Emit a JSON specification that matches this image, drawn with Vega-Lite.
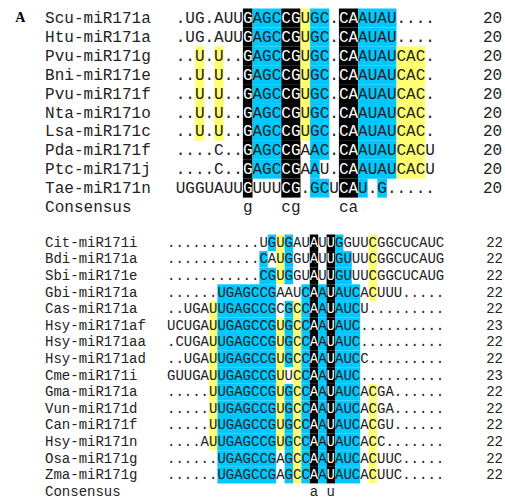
{
"$schema":"https://vega.github.io/schema/vega-lite/v6.json",
"padding":{"left":0,"top":8.5,"right":0,"bottom":0},
"autosize":{"type":"pad"},
"background":"white",
"spacing":18,
"config":{"view":{"stroke":null},"concat":{"spacing":18},"text":{"font":"Liberation Mono"}},
"datasets":{
"rows1":[
{"r":0,"name":"Scu-miR171a","n":"20"},{"r":1,"name":"Htu-miR171a","n":"20"},{"r":2,"name":"Pvu-miR171g","n":"20"},{"r":3,"name":"Bni-miR171e","n":"20"},
{"r":4,"name":"Pvu-miR171f","n":"20"},{"r":5,"name":"Nta-miR171o","n":"20"},{"r":6,"name":"Lsa-miR171c","n":"20"},{"r":7,"name":"Pda-miR171f","n":"20"},
{"r":8,"name":"Ptc-miR171j","n":"20"},{"r":9,"name":"Tae-miR171n","n":"20"},{"r":10,"name":"Consensus","n":""}
],
"tx1":[
{"r":0,"c":0,"s":".UG.AUU"},{"r":0,"c":8,"s":"AGC"},{"r":0,"c":13,"s":"UGC."},{"r":0,"c":19,"s":"AUAU...."},
{"r":1,"c":0,"s":".UG.AUU"},{"r":1,"c":8,"s":"AGC"},{"r":1,"c":13,"s":"UGC."},{"r":1,"c":19,"s":"AUAU...."},
{"r":2,"c":0,"s":"..U.U.."},{"r":2,"c":8,"s":"AGC"},{"r":2,"c":13,"s":"UGC."},{"r":2,"c":19,"s":"AUAUCAC."},
{"r":3,"c":0,"s":"..U.U.."},{"r":3,"c":8,"s":"AGC"},{"r":3,"c":13,"s":"UGC."},{"r":3,"c":19,"s":"AUAUCAC."},
{"r":4,"c":0,"s":"..U.U.."},{"r":4,"c":8,"s":"AGC"},{"r":4,"c":13,"s":"UGC."},{"r":4,"c":19,"s":"AUAUCAC."},
{"r":5,"c":0,"s":"..U.U.."},{"r":5,"c":8,"s":"AGC"},{"r":5,"c":13,"s":"UGC."},{"r":5,"c":19,"s":"AUAUCAC."},
{"r":6,"c":0,"s":"..U.U.."},{"r":6,"c":8,"s":"AGC"},{"r":6,"c":13,"s":"UGC."},{"r":6,"c":19,"s":"AUAUCAC."},
{"r":7,"c":0,"s":"....C.."},{"r":7,"c":8,"s":"AGC"},{"r":7,"c":13,"s":"AAC."},{"r":7,"c":19,"s":"AUAUCACU"},
{"r":8,"c":0,"s":"....C.."},{"r":8,"c":8,"s":"AGC"},{"r":8,"c":13,"s":"AAU."},{"r":8,"c":19,"s":"AUAUCACU"},
{"r":9,"c":0,"s":"UGGUAUU"},{"r":9,"c":8,"s":"UUU"},{"r":9,"c":13,"s":".GCU"},{"r":9,"c":19,"s":"U.G....."},
{"r":10,"c":7,"s":"g"},{"r":10,"c":11,"s":"cg"},{"r":10,"c":17,"s":"ca"}
],
"sh1":[
{"r":0,"c":7,"e":8,"k":"K","s":"G"},{"r":0,"c":8,"e":11,"k":"C"},{"r":0,"c":11,"e":13,"k":"K","s":"CG"},{"r":0,"c":13,"e":14,"k":"Y"},{"r":0,"c":14,"e":16,"k":"C"},{"r":0,"c":17,"e":19,"k":"K","s":"CA"},{"r":0,"c":19,"e":23,"k":"C"},
{"r":1,"c":7,"e":8,"k":"K","s":"G"},{"r":1,"c":8,"e":11,"k":"C"},{"r":1,"c":11,"e":13,"k":"K","s":"CG"},{"r":1,"c":13,"e":14,"k":"Y"},{"r":1,"c":14,"e":16,"k":"C"},{"r":1,"c":17,"e":19,"k":"K","s":"CA"},{"r":1,"c":19,"e":23,"k":"C"},
{"r":2,"c":2,"e":3,"k":"Y"},{"r":2,"c":4,"e":5,"k":"Y"},{"r":2,"c":7,"e":8,"k":"K","s":"G"},{"r":2,"c":8,"e":11,"k":"C"},{"r":2,"c":11,"e":13,"k":"K","s":"CG"},{"r":2,"c":13,"e":14,"k":"Y"},{"r":2,"c":14,"e":16,"k":"C"},{"r":2,"c":17,"e":19,"k":"K","s":"CA"},{"r":2,"c":19,"e":23,"k":"C"},{"r":2,"c":23,"e":26,"k":"Y"},
{"r":3,"c":2,"e":3,"k":"Y"},{"r":3,"c":4,"e":5,"k":"Y"},{"r":3,"c":7,"e":8,"k":"K","s":"G"},{"r":3,"c":8,"e":11,"k":"C"},{"r":3,"c":11,"e":13,"k":"K","s":"CG"},{"r":3,"c":13,"e":14,"k":"Y"},{"r":3,"c":14,"e":16,"k":"C"},{"r":3,"c":17,"e":19,"k":"K","s":"CA"},{"r":3,"c":19,"e":23,"k":"C"},{"r":3,"c":23,"e":26,"k":"Y"},
{"r":4,"c":2,"e":3,"k":"Y"},{"r":4,"c":4,"e":5,"k":"Y"},{"r":4,"c":7,"e":8,"k":"K","s":"G"},{"r":4,"c":8,"e":11,"k":"C"},{"r":4,"c":11,"e":13,"k":"K","s":"CG"},{"r":4,"c":13,"e":14,"k":"Y"},{"r":4,"c":14,"e":16,"k":"C"},{"r":4,"c":17,"e":19,"k":"K","s":"CA"},{"r":4,"c":19,"e":23,"k":"C"},{"r":4,"c":23,"e":26,"k":"Y"},
{"r":5,"c":2,"e":3,"k":"Y"},{"r":5,"c":4,"e":5,"k":"Y"},{"r":5,"c":7,"e":8,"k":"K","s":"G"},{"r":5,"c":8,"e":11,"k":"C"},{"r":5,"c":11,"e":13,"k":"K","s":"CG"},{"r":5,"c":13,"e":14,"k":"Y"},{"r":5,"c":14,"e":16,"k":"C"},{"r":5,"c":17,"e":19,"k":"K","s":"CA"},{"r":5,"c":19,"e":23,"k":"C"},{"r":5,"c":23,"e":26,"k":"Y"},
{"r":6,"c":2,"e":3,"k":"Y"},{"r":6,"c":4,"e":5,"k":"Y"},{"r":6,"c":7,"e":8,"k":"K","s":"G"},{"r":6,"c":8,"e":11,"k":"C"},{"r":6,"c":11,"e":13,"k":"K","s":"CG"},{"r":6,"c":13,"e":14,"k":"Y"},{"r":6,"c":14,"e":16,"k":"C"},{"r":6,"c":17,"e":19,"k":"K","s":"CA"},{"r":6,"c":19,"e":23,"k":"C"},{"r":6,"c":23,"e":26,"k":"Y"},
{"r":7,"c":7,"e":8,"k":"K","s":"G"},{"r":7,"c":8,"e":11,"k":"C"},{"r":7,"c":11,"e":13,"k":"K","s":"CG"},{"r":7,"c":14,"e":16,"k":"C"},{"r":7,"c":17,"e":19,"k":"K","s":"CA"},{"r":7,"c":19,"e":23,"k":"C"},{"r":7,"c":23,"e":26,"k":"Y"},
{"r":8,"c":7,"e":8,"k":"K","s":"G"},{"r":8,"c":8,"e":11,"k":"C"},{"r":8,"c":11,"e":13,"k":"K","s":"CG"},{"r":8,"c":14,"e":15,"k":"C"},{"r":8,"c":17,"e":19,"k":"K","s":"CA"},{"r":8,"c":19,"e":23,"k":"C"},{"r":8,"c":23,"e":26,"k":"Y"},
{"r":9,"c":7,"e":8,"k":"K","s":"G"},{"r":9,"c":11,"e":13,"k":"K","s":"CG"},{"r":9,"c":14,"e":16,"k":"C"},{"r":9,"c":17,"e":19,"k":"K","s":"CA"},{"r":9,"c":19,"e":20,"k":"C"},{"r":9,"c":21,"e":22,"k":"C"}
],
"rows2":[
{"r":0,"name":"Cit-miR171i","n":"22"},{"r":1,"name":"Bdi-miR171a","n":"22"},{"r":2,"name":"Sbi-miR171e","n":"22"},{"r":3,"name":"Gbi-miR171a","n":"22"},
{"r":4,"name":"Cas-miR171a","n":"22"},{"r":5,"name":"Hsy-miR171af","n":"23"},{"r":6,"name":"Hsy-miR171aa","n":"22"},{"r":7,"name":"Hsy-miR171ad","n":"22"},
{"r":8,"name":"Cme-miR171i","n":"23"},{"r":9,"name":"Gma-miR171a","n":"22"},{"r":10,"name":"Vun-miR171d","n":"22"},{"r":11,"name":"Can-miR171f","n":"22"},
{"r":12,"name":"Hsy-miR171n","n":"22"},{"r":13,"name":"Osa-miR171g","n":"22"},{"r":14,"name":"Zma-miR171g","n":"22"},{"r":15,"name":"Consensus","n":""}
],
"tx2":[
{"r":0,"c":0,"s":"...........UGUGAU"},{"r":0,"c":18,"s":"U"},{"r":0,"c":20,"s":"GGUUCGGCUCAUC"},
{"r":1,"c":0,"s":"...........CAUGGU"},{"r":1,"c":18,"s":"U"},{"r":1,"c":20,"s":"GUUUCGGCUCAUG"},
{"r":2,"c":0,"s":"...........CGUGGU"},{"r":2,"c":18,"s":"U"},{"r":2,"c":20,"s":"GUUUCGGCUCAUG"},
{"r":3,"c":0,"s":"......UGAGCCGAAUC"},{"r":3,"c":18,"s":"A"},{"r":3,"c":20,"s":"AUCACUUU....."},
{"r":4,"c":0,"s":"..UGAUUGAGCCGCGCC"},{"r":4,"c":18,"s":"A"},{"r":4,"c":20,"s":"AUCU........."},
{"r":5,"c":0,"s":"UCUGAUUGAGCCGUGCC"},{"r":5,"c":18,"s":"A"},{"r":5,"c":20,"s":"AUC.........."},
{"r":6,"c":0,"s":".CUGAUUGAGCCGUGCC"},{"r":6,"c":18,"s":"A"},{"r":6,"c":20,"s":"AUC.........."},
{"r":7,"c":0,"s":"..UGAUUGAGCCGUGCC"},{"r":7,"c":18,"s":"A"},{"r":7,"c":20,"s":"AUCC........."},
{"r":8,"c":0,"s":"GUUGAUUGAGCCGUUCC"},{"r":8,"c":18,"s":"A"},{"r":8,"c":20,"s":"AUC.........."},
{"r":9,"c":0,"s":".....UUGAGCCGUGCC"},{"r":9,"c":18,"s":"A"},{"r":9,"c":20,"s":"AUCACGA......"},
{"r":10,"c":0,"s":".....UUGAGCCGUGCC"},{"r":10,"c":18,"s":"A"},{"r":10,"c":20,"s":"AUCACGA......"},
{"r":11,"c":0,"s":".....UUGAGCCGUGCC"},{"r":11,"c":18,"s":"A"},{"r":11,"c":20,"s":"AUCACGU......"},
{"r":12,"c":0,"s":"....AUUGAGCCGUGCC"},{"r":12,"c":18,"s":"A"},{"r":12,"c":20,"s":"AUCACC......."},
{"r":13,"c":0,"s":"......UGAGCCGAGCC"},{"r":13,"c":18,"s":"A"},{"r":13,"c":20,"s":"AUCACUUC....."},
{"r":14,"c":0,"s":"......UGAGCCGAGCC"},{"r":14,"c":18,"s":"A"},{"r":14,"c":20,"s":"AUCACUUC....."},
{"r":15,"c":17,"s":"a"},{"r":15,"c":19,"s":"u"}
],
"sh2":[
{"r":0,"c":12,"e":13,"k":"C"},{"r":0,"c":13,"e":14,"k":"Y"},{"r":0,"c":14,"e":15,"k":"C"},{"r":0,"c":17,"e":18,"k":"K","s":"A"},{"r":0,"c":19,"e":20,"k":"K","s":"U"},{"r":0,"c":20,"e":21,"k":"C"},{"r":0,"c":24,"e":25,"k":"Y"},
{"r":1,"c":11,"e":12,"k":"C"},{"r":1,"c":13,"e":14,"k":"Y"},{"r":1,"c":14,"e":15,"k":"C"},{"r":1,"c":17,"e":18,"k":"K","s":"A"},{"r":1,"c":19,"e":20,"k":"K","s":"U"},{"r":1,"c":20,"e":22,"k":"C"},{"r":1,"c":24,"e":25,"k":"Y"},
{"r":2,"c":11,"e":13,"k":"C"},{"r":2,"c":13,"e":14,"k":"Y"},{"r":2,"c":14,"e":15,"k":"C"},{"r":2,"c":17,"e":18,"k":"K","s":"A"},{"r":2,"c":19,"e":20,"k":"K","s":"U"},{"r":2,"c":20,"e":22,"k":"C"},{"r":2,"c":24,"e":25,"k":"Y"},
{"r":3,"c":6,"e":13,"k":"C"},{"r":3,"c":16,"e":17,"k":"C"},{"r":3,"c":17,"e":18,"k":"K","s":"A"},{"r":3,"c":18,"e":19,"k":"C"},{"r":3,"c":19,"e":20,"k":"K","s":"U"},{"r":3,"c":20,"e":23,"k":"C"},{"r":3,"c":24,"e":25,"k":"Y"},
{"r":4,"c":5,"e":6,"k":"Y"},{"r":4,"c":6,"e":13,"k":"C"},{"r":4,"c":14,"e":15,"k":"C"},{"r":4,"c":15,"e":16,"k":"Y"},{"r":4,"c":16,"e":17,"k":"C"},{"r":4,"c":17,"e":18,"k":"K","s":"A"},{"r":4,"c":18,"e":19,"k":"C"},{"r":4,"c":19,"e":20,"k":"K","s":"U"},{"r":4,"c":20,"e":23,"k":"C"},
{"r":5,"c":5,"e":6,"k":"Y"},{"r":5,"c":6,"e":13,"k":"C"},{"r":5,"c":13,"e":14,"k":"Y"},{"r":5,"c":14,"e":15,"k":"C"},{"r":5,"c":15,"e":16,"k":"Y"},{"r":5,"c":16,"e":17,"k":"C"},{"r":5,"c":17,"e":18,"k":"K","s":"A"},{"r":5,"c":18,"e":19,"k":"C"},{"r":5,"c":19,"e":20,"k":"K","s":"U"},{"r":5,"c":20,"e":23,"k":"C"},
{"r":6,"c":5,"e":6,"k":"Y"},{"r":6,"c":6,"e":13,"k":"C"},{"r":6,"c":13,"e":14,"k":"Y"},{"r":6,"c":14,"e":15,"k":"C"},{"r":6,"c":15,"e":16,"k":"Y"},{"r":6,"c":16,"e":17,"k":"C"},{"r":6,"c":17,"e":18,"k":"K","s":"A"},{"r":6,"c":18,"e":19,"k":"C"},{"r":6,"c":19,"e":20,"k":"K","s":"U"},{"r":6,"c":20,"e":23,"k":"C"},
{"r":7,"c":5,"e":6,"k":"Y"},{"r":7,"c":6,"e":13,"k":"C"},{"r":7,"c":13,"e":14,"k":"Y"},{"r":7,"c":14,"e":15,"k":"C"},{"r":7,"c":15,"e":16,"k":"Y"},{"r":7,"c":16,"e":17,"k":"C"},{"r":7,"c":17,"e":18,"k":"K","s":"A"},{"r":7,"c":18,"e":19,"k":"C"},{"r":7,"c":19,"e":20,"k":"K","s":"U"},{"r":7,"c":20,"e":23,"k":"C"},
{"r":8,"c":5,"e":6,"k":"Y"},{"r":8,"c":6,"e":13,"k":"C"},{"r":8,"c":13,"e":14,"k":"Y"},{"r":8,"c":15,"e":16,"k":"Y"},{"r":8,"c":16,"e":17,"k":"C"},{"r":8,"c":17,"e":18,"k":"K","s":"A"},{"r":8,"c":18,"e":19,"k":"C"},{"r":8,"c":19,"e":20,"k":"K","s":"U"},{"r":8,"c":20,"e":23,"k":"C"},
{"r":9,"c":5,"e":6,"k":"Y"},{"r":9,"c":6,"e":13,"k":"C"},{"r":9,"c":13,"e":14,"k":"Y"},{"r":9,"c":14,"e":15,"k":"C"},{"r":9,"c":15,"e":16,"k":"Y"},{"r":9,"c":16,"e":17,"k":"C"},{"r":9,"c":17,"e":18,"k":"K","s":"A"},{"r":9,"c":18,"e":19,"k":"C"},{"r":9,"c":19,"e":20,"k":"K","s":"U"},{"r":9,"c":20,"e":23,"k":"C"},{"r":9,"c":24,"e":25,"k":"Y"},
{"r":10,"c":5,"e":6,"k":"Y"},{"r":10,"c":6,"e":13,"k":"C"},{"r":10,"c":13,"e":14,"k":"Y"},{"r":10,"c":14,"e":15,"k":"C"},{"r":10,"c":15,"e":16,"k":"Y"},{"r":10,"c":16,"e":17,"k":"C"},{"r":10,"c":17,"e":18,"k":"K","s":"A"},{"r":10,"c":18,"e":19,"k":"C"},{"r":10,"c":19,"e":20,"k":"K","s":"U"},{"r":10,"c":20,"e":23,"k":"C"},{"r":10,"c":24,"e":25,"k":"Y"},
{"r":11,"c":5,"e":6,"k":"Y"},{"r":11,"c":6,"e":13,"k":"C"},{"r":11,"c":13,"e":14,"k":"Y"},{"r":11,"c":14,"e":15,"k":"C"},{"r":11,"c":15,"e":16,"k":"Y"},{"r":11,"c":16,"e":17,"k":"C"},{"r":11,"c":17,"e":18,"k":"K","s":"A"},{"r":11,"c":18,"e":19,"k":"C"},{"r":11,"c":19,"e":20,"k":"K","s":"U"},{"r":11,"c":20,"e":23,"k":"C"},{"r":11,"c":24,"e":25,"k":"Y"},
{"r":12,"c":5,"e":6,"k":"Y"},{"r":12,"c":6,"e":13,"k":"C"},{"r":12,"c":13,"e":14,"k":"Y"},{"r":12,"c":14,"e":15,"k":"C"},{"r":12,"c":15,"e":16,"k":"Y"},{"r":12,"c":16,"e":17,"k":"C"},{"r":12,"c":17,"e":18,"k":"K","s":"A"},{"r":12,"c":18,"e":19,"k":"C"},{"r":12,"c":19,"e":20,"k":"K","s":"U"},{"r":12,"c":20,"e":23,"k":"C"},{"r":12,"c":24,"e":25,"k":"Y"},
{"r":13,"c":6,"e":13,"k":"C"},{"r":13,"c":14,"e":15,"k":"C"},{"r":13,"c":15,"e":16,"k":"Y"},{"r":13,"c":16,"e":17,"k":"C"},{"r":13,"c":17,"e":18,"k":"K","s":"A"},{"r":13,"c":18,"e":19,"k":"C"},{"r":13,"c":19,"e":20,"k":"K","s":"U"},{"r":13,"c":20,"e":23,"k":"C"},{"r":13,"c":24,"e":25,"k":"Y"},
{"r":14,"c":6,"e":13,"k":"C"},{"r":14,"c":14,"e":15,"k":"C"},{"r":14,"c":15,"e":16,"k":"Y"},{"r":14,"c":16,"e":17,"k":"C"},{"r":14,"c":17,"e":18,"k":"K","s":"A"},{"r":14,"c":18,"e":19,"k":"C"},{"r":14,"c":19,"e":20,"k":"K","s":"U"},{"r":14,"c":20,"e":23,"k":"C"},{"r":14,"c":24,"e":25,"k":"Y"}
]
},
"vconcat":[
{
"width":505,"height":208,
"encoding":{"y":{"field":"r","type":"ordinal","scale":{"domain":[0,1,2,3,4,5,6,7,8,9,10],"paddingInner":0,"paddingOuter":0},"axis":null}},
"layer":[
{"data":{"name":"sh1"},"mark":{"type":"rect"},
 "encoding":{"x":{"field":"c","type":"quantitative","scale":{"domain":[-18.3,34.3],"nice":false,"zero":false},"axis":null},"x2":{"field":"e"},
 "color":{"field":"k","type":"nominal","scale":{"domain":["K","C","Y"],"range":["#000000","#00C8FF","#FFFF70"]},"legend":null}}},
{"data":{"name":"tx1"},"mark":{"type":"text","align":"left","baseline":"middle","fontSize":16,"color":"#222222"},
 "encoding":{"x":{"field":"c","type":"quantitative"},"text":{"field":"s"}}},
{"data":{"name":"sh1"},"transform":[{"filter":"datum.k == 'K'"}],"mark":{"type":"text","align":"left","baseline":"middle","fontSize":16,"color":"#FFFFFF"},
 "encoding":{"x":{"field":"c","type":"quantitative"},"text":{"field":"s"}}},
{"data":{"name":"rows1"},"mark":{"type":"text","align":"left","baseline":"middle","fontSize":16,"color":"#222222"},
 "encoding":{"x":{"datum":-13.6,"type":"quantitative"},"text":{"field":"name"}}},
{"data":{"name":"rows1"},"mark":{"type":"text","align":"left","baseline":"middle","fontSize":16,"color":"#222222"},
 "encoding":{"x":{"datum":32,"type":"quantitative"},"text":{"field":"n"}}},
{"data":{"name":"rows1"},"transform":[{"filter":"datum.r == 0"}],"mark":{"type":"text","align":"left","baseline":"middle","font":"Liberation Serif","fontWeight":"bold","fontSize":14,"color":"#000000"},
 "encoding":{"x":{"datum":-16.7,"type":"quantitative"},"text":{"value":"A"}}}
]
},
{
"width":505,"height":265.5,
"encoding":{"y":{"field":"r","type":"ordinal","scale":{"domain":[0,1,2,3,4,5,6,7,8,9,10,11,12,13,14,15],"paddingInner":0,"paddingOuter":0},"axis":null}},
"layer":[
{"data":{"name":"sh2"},"mark":{"type":"rect"},
 "encoding":{"x":{"field":"c","type":"quantitative","scale":{"domain":[-19.88,40.24],"nice":false,"zero":false},"axis":null},"x2":{"field":"e"},
 "color":{"field":"k","type":"nominal","scale":{"domain":["K","C","Y"],"range":["#000000","#00C8FF","#FFFF70"]},"legend":null}}},
{"data":{"name":"tx2"},"mark":{"type":"text","align":"left","baseline":"middle","fontSize":14,"color":"#222222"},
 "encoding":{"x":{"field":"c","type":"quantitative"},"text":{"field":"s"}}},
{"data":{"name":"sh2"},"transform":[{"filter":"datum.k == 'K'"}],"mark":{"type":"text","align":"left","baseline":"middle","fontSize":14,"color":"#FFFFFF"},
 "encoding":{"x":{"field":"c","type":"quantitative"},"text":{"field":"s"}}},
{"data":{"name":"rows2"},"mark":{"type":"text","align":"left","baseline":"middle","fontSize":14,"color":"#222222"},
 "encoding":{"x":{"datum":-14.52,"type":"quantitative"},"text":{"field":"name"}}},
{"data":{"name":"rows2"},"mark":{"type":"text","align":"left","baseline":"middle","fontSize":14,"color":"#222222"},
 "encoding":{"x":{"datum":38,"type":"quantitative"},"text":{"field":"n"}}}
]
}
]
}
